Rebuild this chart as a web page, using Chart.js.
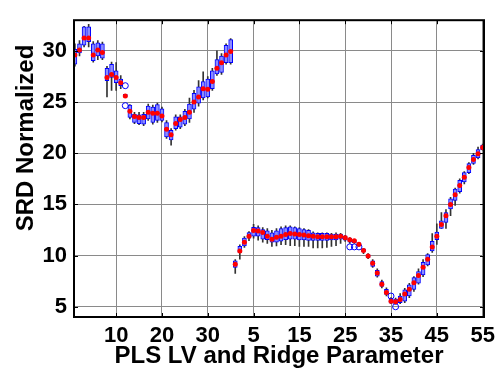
<!DOCTYPE html>
<html>
<head>
<meta charset="utf-8">
<script src="https://cdn.jsdelivr.net/npm/chart.js@4"></script>
<style>
  html, body { margin: 0; padding: 0; background: #fff; }
</style>
</head>
<body>
<canvas id="srdChart" width="501" height="379"></canvas>
<script>
// PLS latent variables 1..35, then ridge parameters 1..55 on the same axis
const plsLV = Array.from({length: 35}, (_, i) => i + 1);
const ridgeParam = Array.from({length: 55}, (_, i) => i + 1);

// box statistics, PLS part
const plsMed = [29.6, 30.1, 31.25, 31.25, 29.6, 30.1, 29.85, 27.4, 27.7, 27.4, 26.9, 25.6, 24.1, 23.6, 23.5, 23.5, 24.0, 23.9, 23.9, 23.65, 22.35, 21.8, 22.9, 23.3, 23.5, 24.0, 25.0, 25.5, 26.3, 26.25, 27.0, 28.3, 28.85, 29.6, 29.95];
const plsQ1 = [28.7, 29.8, 30.55, 30.9, 29.05, 29.5, 29.3, 27.1, 27.4, 26.9, 26.6, 25.5, 23.5, 23.0, 22.9, 22.85, 23.35, 23.0, 23.2, 23.2, 21.6, 21.3, 22.4, 22.55, 22.85, 23.35, 24.3, 24.9, 25.4, 25.5, 26.3, 27.75, 27.9, 28.85, 28.85];
const plsQ3 = [30.15, 30.7, 32.35, 32.35, 30.7, 30.8, 30.7, 28.3, 28.7, 28.05, 27.25, 25.75, 24.7, 23.8, 23.75, 23.8, 24.6, 24.5, 24.75, 24.35, 23.0, 22.25, 23.55, 23.55, 24.1, 24.8, 25.85, 26.5, 27.0, 27.25, 28.05, 29.15, 29.5, 30.55, 31.1];
const plsLo = [28.5, 29.5, 30.4, 30.4, 28.9, 29.15, 29.15, 25.5, 26.15, 26.15, 26.3, 25.5, 23.35, 22.9, 22.8, 22.7, 23.2, 22.85, 23.0, 23.05, 21.45, 20.8, 22.25, 22.4, 22.7, 23.0, 24.0, 24.6, 25.2, 25.4, 26.15, 27.6, 27.7, 28.7, 28.7];
const plsHi = [30.7, 31.0, 32.4, 32.6, 30.9, 31.0, 30.85, 28.5, 28.9, 28.85, 27.6, 25.75, 24.75, 24.0, 24.0, 24.0, 24.8, 24.7, 24.9, 24.5, 23.2, 22.4, 23.75, 23.75, 24.3, 25.4, 26.15, 27.1, 27.95, 27.5, 28.3, 30.0, 29.75, 30.7, 31.2];

// box statistics, ridge part
const ridgeMed = [9.15, 10.45, 11.3, 11.9, 12.45, 12.4, 12.25, 11.9, 11.6, 11.8, 11.9, 12.05, 12.15, 12.1, 12.05, 12.0, 11.95, 11.9, 11.85, 11.85, 11.85, 11.85, 11.85, 11.9, 11.75, 11.55, 11.45, 11.1, 10.5, 9.95, 9.25, 8.3, 7.2, 6.4, 5.55, 5.5, 5.7, 6.25, 6.7, 7.35, 8.05, 8.85, 9.65, 10.85, 11.9, 13.05, 13.9, 15.0, 15.95, 16.85, 17.65, 18.6, 19.4, 19.95, 20.55];
const ridgeQ1 = [8.85, 10.3, 10.95, 11.7, 11.9, 11.9, 11.6, 11.55, 11.3, 11.3, 11.4, 11.55, 11.6, 11.6, 11.54, 11.54, 11.48, 11.48, 11.48, 11.48, 11.48, 11.54, 11.54, 11.6, 11.5, 11.3, 11.25, 10.95, 10.35, 9.8, 8.95, 8.0, 7.0, 6.2, 5.35, 5.3, 5.4, 5.55, 6.05, 6.7, 7.3, 8.1, 9.1, 10.45, 11.55, 12.65, 13.25, 14.55, 15.4, 16.25, 17.2, 18.1, 19.0, 19.55, 20.35];
const ridgeQ3 = [9.5, 10.9, 11.7, 12.25, 12.75, 12.74, 12.55, 12.42, 12.23, 12.42, 12.64, 12.74, 12.8, 12.74, 12.64, 12.55, 12.48, 12.23, 12.17, 12.17, 12.17, 12.11, 12.11, 12.11, 11.92, 11.7, 11.55, 11.25, 10.65, 10.1, 9.5, 8.55, 7.45, 6.7, 5.8, 5.75, 6.05, 6.65, 7.15, 7.85, 8.45, 9.35, 10.1, 11.4, 12.3, 13.4, 14.2, 15.55, 16.5, 17.35, 18.1, 19.0, 19.8, 20.35, 20.8];
const ridgeLo = [8.25, 9.65, 10.8, 11.45, 11.7, 11.5, 11.3, 11.2, 10.9, 10.95, 11.07, 11.07, 10.97, 10.97, 10.9, 10.9, 10.9, 10.75, 10.75, 10.75, 10.8, 10.9, 10.97, 11.2, 11.38, 11.2, 11.2, 10.9, 10.2, 9.7, 8.85, 7.9, 6.85, 6.05, 5.3, 5.25, 5.3, 5.4, 5.9, 6.5, 7.2, 7.95, 9.0, 10.3, 11.1, 12.65, 12.65, 13.9, 14.9, 16.1, 17.0, 18.0, 18.9, 19.45, 20.3];
const ridgeHi = [9.6, 11.05, 11.85, 12.35, 13.05, 12.9, 12.74, 12.64, 12.48, 12.64, 12.8, 12.9, 12.9, 12.8, 12.74, 12.64, 12.55, 12.33, 12.23, 12.23, 12.23, 12.17, 12.23, 12.17, 11.98, 11.75, 11.6, 11.3, 10.7, 10.2, 9.6, 8.7, 7.6, 6.85, 5.9, 5.85, 6.3, 6.8, 7.3, 7.95, 8.7, 9.6, 10.2, 12.15, 13.1, 14.2, 14.5, 15.7, 16.6, 17.5, 18.2, 19.1, 20.0, 20.6, 20.9];

// outliers: [category, value]
const plsOutliers = [[12, 26.6], [12, 24.65]];
const ridgeOutliers = [[26, 10.85], [27, 10.85], [28, 10.85], [35, 6.05], [36, 5.0]];

// axis ticks
const xTickPos = [10, 20, 30, 40, 50, 60, 70, 80, 90];
const yTicks = [5, 10, 15, 20, 25, 30];

const plsN = plsLV.length;
const pos = [...plsLV, ...ridgeParam.map(r => r + plsN)];
const med = [...plsMed, ...ridgeMed];
const q1 = [...plsQ1, ...ridgeQ1];
const q3 = [...plsQ3, ...ridgeQ3];
const lo = [...plsLo, ...ridgeLo];
const hi = [...plsHi, ...ridgeHi];
const outliers = [
    ...plsOutliers.map(o => ({x: o[0], y: o[1]})),
    ...ridgeOutliers.map(o => ({x: o[0] + plsN, y: o[1]}))
];

const boldFont = 'bold 24px "Liberation Sans"';

// box frame, inward tick marks, rotated y label (sits above the middle, like the original)
const frame = {
    id: 'frame',
    afterDatasetsDraw(chart) {
        const {ctx, chartArea: a, scales} = chart;
        ctx.save();
        ctx.strokeStyle = '#000';
        ctx.lineWidth = 1;
        ctx.beginPath();
        xTickPos.forEach(v => {
            const px = Math.round(scales.x.getPixelForValue(v)) + 0.5;
            ctx.moveTo(px, a.bottom); ctx.lineTo(px, a.bottom - 4);
            ctx.moveTo(px, a.top); ctx.lineTo(px, a.top + 4);
        });
        yTicks.forEach(v => {
            const py = Math.round(scales.y.getPixelForValue(v)) + 0.5;
            ctx.moveTo(a.left, py); ctx.lineTo(a.left + 4, py);
            ctx.moveTo(a.right, py); ctx.lineTo(a.right - 4, py);
        });
        ctx.stroke();
        ctx.lineWidth = 2;
        ctx.strokeRect(a.left, a.top, a.right - a.left, a.bottom - a.top);

        ctx.translate(26, 138);
        ctx.rotate(-Math.PI / 2);
        ctx.fillStyle = '#000';
        ctx.font = boldFont;
        ctx.textAlign = 'center';
        ctx.textBaseline = 'middle';
        ctx.fillText('SRD Normalized', 0, 0);
        ctx.restore();
    }
};

const ctx = document.getElementById('srdChart').getContext('2d');

new Chart(ctx, {
    type: 'bar',
    data: {
        datasets: [
            {
                type: 'scatter',
                data: pos.map((x, i) => ({x: x, y: med[i]})),
                pointRadius: 2.5,
                pointBackgroundColor: '#ff0000',
                pointBorderColor: '#ff0000',
                pointBorderWidth: 0,
                order: 0
            },
            {
                type: 'scatter',
                data: outliers,
                pointRadius: 3,
                pointBackgroundColor: 'rgba(0,0,0,0)',
                pointBorderColor: '#0000ff',
                pointBorderWidth: 1,
                order: 0
            },
            {
                data: pos.map((x, i) => ({x: x, y: [q1[i], q3[i]]})),
                backgroundColor: '#8c8cff',
                borderColor: '#0000ff',
                borderWidth: 1,
                borderSkipped: false,
                barThickness: 4,
                grouped: false,
                order: 1
            },
            {
                data: pos.map((x, i) => ({x: x, y: [lo[i], hi[i]]})),
                backgroundColor: '#333333',
                borderWidth: 0,
                barThickness: 1,
                grouped: false,
                order: 2
            }
        ]
    },
    options: {
        responsive: false,
        animation: false,
        layout: { padding: { left: 0, right: 17, top: 10, bottom: 0 } },
        plugins: {
            legend: { display: false },
            tooltip: { enabled: false }
        },
        scales: {
            x: {
                type: 'linear',
                min: 0.8,
                max: 90.3,
                offset: false,
                afterBuildTicks: s => { s.ticks = xTickPos.map(v => ({value: v})); },
                afterFit: s => { s.height = 62; },
                grid: { color: '#8a8a8a', lineWidth: 1, drawTicks: false, offset: false },
                border: { display: false },
                ticks: {
                    autoSkip: false,
                    maxRotation: 0,
                    padding: 6,
                    color: '#000',
                    font: { family: 'Liberation Sans', size: 22, weight: 'bold' },
                    callback: v => (v <= plsN ? v : v - plsN)
                },
                title: {
                    display: true,
                    text: 'PLS LV and Ridge Parameter',
                    color: '#000',
                    padding: { top: 0, bottom: 8 },
                    font: { family: 'Liberation Sans', size: 24, weight: 'bold' }
                }
            },
            y: {
                min: 4,
                max: 33,
                afterBuildTicks: s => { s.ticks = yTicks.map(v => ({value: v})); },
                afterFit: s => { s.width = 74; },
                grid: { color: '#8a8a8a', lineWidth: 1, drawTicks: false },
                border: { display: false },
                ticks: {
                    padding: 7,
                    color: '#000',
                    font: { family: 'Liberation Sans', size: 22, weight: 'bold' }
                }
            }
        }
    },
    plugins: [frame]
});
</script>
</body>
</html>
